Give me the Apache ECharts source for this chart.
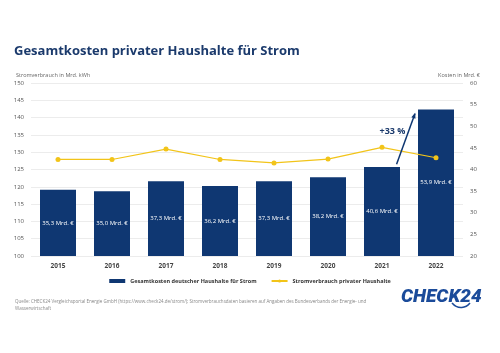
<!DOCTYPE html>
<html>
<head>
<meta charset="utf-8">
<script src="https://cdn.jsdelivr.net/npm/echarts@6/dist/echarts.min.js"></script>
<style>
  html, body { margin: 0; padding: 0; background: #fff; }
  #chart { width: 500px; height: 353px; }
</style>
</head>
<body>
<div id="chart"></div>
<script>
// Daten
var years = ["2015", "2016", "2017", "2018", "2019", "2020", "2021", "2022"];
var kosten = [35.3, 35.0, 37.3, 36.2, 37.3, 38.2, 40.6, 53.9];       // Mrd. €
var verbrauch = [127.9, 127.9, 130.9, 127.9, 126.9, 128.0, 131.4, 128.4]; // Mrd. kWh
var leftTicks = [100, 150, 5];
var rightTicks = [20, 60, 5];

var navy = "#0f3772";
var yellow = "#f2c419";
var font = "Open Sans";

var myChart = echarts.init(document.getElementById("chart"));

myChart.setOption({
  backgroundColor: "#fff",
  textStyle: { fontFamily: font },
  title: [
    {
      text: "Gesamtkosten privater Haushalte für Strom",
      left: 9, top: 40,
      textStyle: { fontSize: 13, fontWeight: "bold", color: "#1b3a6c", fontFamily: font }
    },
    {
      text: "Stromverbrauch in Mrd. kWh",
      left: 11, top: 67,
      textStyle: { fontSize: 5.5, fontWeight: "normal", color: "#666", fontFamily: font }
    },
    {
      text: "Kosten in Mrd. €",
      right: 15, top: 67,
      textStyle: { fontSize: 5.5, fontWeight: "normal", color: "#666", fontFamily: font }
    },
    {
      text: "Quelle: CHECK24 Vergleichsportal Energie GmbH (https://www.check24.de/strom/); Stromverbrauchsdaten basieren auf Angaben des Bundesverbands der Energie- und\nWasserwirtschaft",
      left: 10, top: 293,
      textStyle: { fontSize: 4.5, fontWeight: "normal", color: "#888", lineHeight: 7, fontFamily: font }
    },
    {
      text: "CHECK24",
      left: 396, top: 283,
      textStyle: { fontSize: 19, fontWeight: 900, fontStyle: "italic", color: "#1b4b9a", fontFamily: "Roboto" }
    }
  ],
  legend: {
    bottom: 64,
    left: "center",
    itemWidth: 16,
    itemHeight: 4,
    itemGap: 14,
    textStyle: { fontSize: 5.5, fontWeight: "bold", color: "#333" },
    data: [
      { name: "Gesamtkosten deutscher Haushalte für Strom", icon: "rect" },
      { name: "Stromverbrauch privater Haushalte" }
    ]
  },
  grid: { left: 31, right: 37, top: 83, bottom: 97 },
  xAxis: {
    type: "category",
    data: years,
    axisLine: { show: false },
    axisTick: { show: false },
    axisLabel: { fontSize: 6.5, fontWeight: "bold", color: "#444", margin: 7 }
  },
  yAxis: [
    {
      type: "value",
      min: leftTicks[0], max: leftTicks[1], interval: leftTicks[2],
      axisLine: { show: false },
      axisTick: { show: false },
      axisLabel: { fontSize: 6, color: "#555", margin: 7 },
      splitLine: { lineStyle: { color: "#ececec", width: 1 } }
    },
    {
      type: "value",
      min: rightTicks[0], max: rightTicks[1], interval: rightTicks[2],
      axisLine: { show: false },
      axisTick: { show: false },
      axisLabel: { fontSize: 6, color: "#555", margin: 7 },
      splitLine: { show: false }
    }
  ],
  series: [
    {
      name: "Gesamtkosten deutscher Haushalte für Strom",
      type: "bar",
      yAxisIndex: 1,
      barWidth: 36,
      itemStyle: { color: navy },
      label: {
        show: true,
        position: "inside",
        color: "#fff",
        fontSize: 6,
        formatter: function (p) {
          return p.value.toFixed(1).replace(".", ",") + " Mrd. €";
        }
      },
      data: kosten,
      z: 2
    },
    {
      name: "Stromverbrauch privater Haushalte",
      type: "line",
      yAxisIndex: 0,
      symbol: "circle",
      symbolSize: 5,
      itemStyle: { color: yellow },
      lineStyle: { color: yellow, width: 1.2 },
      data: verbrauch,
      z: 3
    }
  ]
});

// Pfeil +33 % (Position aus Achsen berechnet)
var x21 = myChart.convertToPixel({ xAxisIndex: 0 }, "2021");
var x22 = myChart.convertToPixel({ xAxisIndex: 0 }, "2022");
var yStart = myChart.convertToPixel({ yAxisIndex: 1 }, 41.2);
var yEnd = myChart.convertToPixel({ yAxisIndex: 1 }, 52.9);
var xs = x21 + (x22 - x21) * 0.27;
var xe = x21 + (x22 - x21) * 0.61;
var ang = Math.atan2(yEnd - yStart, xe - xs);
var ah = 5;
myChart.setOption({
  graphic: [
    {
      type: "line",
      shape: { x1: xs, y1: yStart, x2: xe, y2: yEnd },
      style: { stroke: navy, lineWidth: 1.5 },
      z: 10
    },
    {
      type: "polygon",
      shape: {
        points: [
          [xe + Math.cos(ang) * 1, yEnd + Math.sin(ang) * 1],
          [xe - ah * Math.cos(ang - 0.45), yEnd - ah * Math.sin(ang - 0.45)],
          [xe - ah * Math.cos(ang + 0.45), yEnd - ah * Math.sin(ang + 0.45)]
        ]
      },
      style: { fill: navy },
      z: 10
    },
    {
      type: "text",
      x: xs - 17, y: myChart.convertToPixel({ yAxisIndex: 1 }, 48.8),
      style: {
        text: "+33 %", fill: "#1b3a6c", font: "bold 9px 'Open Sans'",
        align: "left", verticalAlign: "middle"
      },
      z: 10
    },
    {
      type: "bezierCurve",
      shape: { x1: 452, y1: 303, x2: 470, y2: 303, cpx1: 458, cpy1: 310, cpx2: 466, cpy2: 308 },
      style: { stroke: "#1b4b9a", lineWidth: 1.5, fill: null },
      z: 10
    }
  ]
});
</script>
</body>
</html>
